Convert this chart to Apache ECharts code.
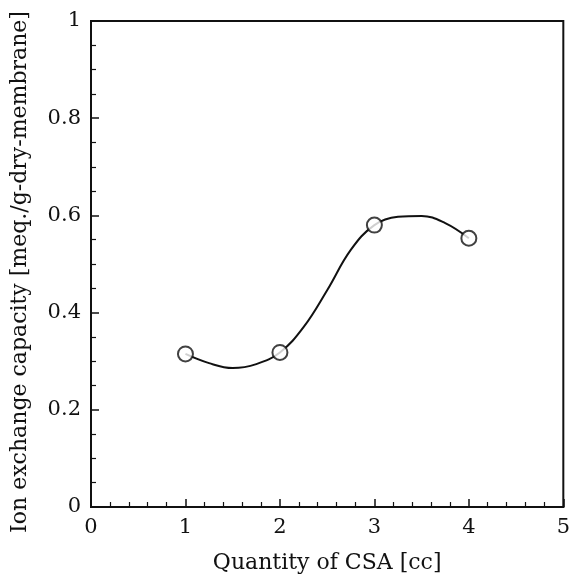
<!DOCTYPE html>
<html>
<head>
<meta charset="utf-8">
<script src="https://cdn.jsdelivr.net/npm/echarts@6/dist/echarts.min.js"></script>
<style>
  html, body { margin: 0; padding: 0; background: #fff; }
  #chart { width: 573px; height: 580px; }
</style>
</head>
<body>
<div id="chart"></div>
<script>
// measured points
const csaQty = [1, 2, 3, 4];
const ionCapacity = [0.315, 0.318, 0.58, 0.553];

// fitted curve
const curveX = [1, 1.25, 1.5, 1.75, 2, 2.25, 2.5, 2.75, 3, 3.25, 3.5, 3.75, 4];
const curveY = [0.315, 0.296, 0.286, 0.294, 0.318, 0.37, 0.446, 0.529, 0.58, 0.597, 0.599, 0.584, 0.553];

const xTicks = [0, 1, 2, 3, 4, 5];
const yTicks = [0, 0.2, 0.4, 0.6, 0.8, 1];

const font = '"DejaVu Serif", "Liberation Serif", serif';
const ink = '#111';

const chart = echarts.init(document.getElementById('chart'));

const option = {
  backgroundColor: '#fff',
  animation: false,
  grid: {
    left: 91, right: 7, top: 21, bottom: 73,
    show: true,
    borderColor: ink,
    borderWidth: 2
  },
  xAxis: {
    type: 'value',
    min: xTicks[0],
    max: xTicks[xTicks.length - 1],
    interval: 1,
    name: 'Quantity of CSA [cc]',
    nameLocation: 'middle',
    nameGap: 45,
    nameTextStyle: { fontFamily: font, fontSize: 22, color: ink },
    axisLine: { onZero: false, lineStyle: { color: ink, width: 2 } },
    axisTick: { inside: true, length: 8, lineStyle: { color: ink, width: 1.5 } },
    minorTick: { show: true, splitNumber: 5, length: 5, lineStyle: { color: ink, width: 1.2 } },
    splitLine: { show: false },
    axisLabel: { fontFamily: font, fontSize: 21, color: ink, margin: 10 }
  },
  yAxis: {
    type: 'value',
    min: yTicks[0],
    max: yTicks[yTicks.length - 1],
    interval: 0.2,
    name: 'Ion exchange capacity [meq./g-dry-membrane]',
    nameLocation: 'middle',
    nameGap: 60,
    nameRotate: 90,
    nameTextStyle: { fontFamily: font, fontSize: 22, color: ink, padding: [0, 16, 0, 0] },
    axisLine: { onZero: false, lineStyle: { color: ink, width: 2 } },
    axisTick: { inside: true, length: 8, lineStyle: { color: ink, width: 1.5 } },
    minorTick: { show: true, splitNumber: 4, length: 5, lineStyle: { color: ink, width: 1.2 } },
    splitLine: { show: false },
    axisLabel: { fontFamily: font, fontSize: 21, color: ink, margin: 10 }
  },
  series: [
    {
      name: 'fit',
      type: 'line',
      smooth: 0.4,
      symbol: 'none',
      lineStyle: { color: ink, width: 2 },
      data: curveX.map((x, i) => [x, curveY[i]]),
      z: 2
    },
    {
      name: 'measured',
      type: 'scatter',
      symbol: 'circle',
      symbolSize: 15,
      itemStyle: { color: '#fff', borderColor: ink, borderWidth: 2 },
      data: csaQty.map((x, i) => [x, ionCapacity[i]]),
      z: 3
    }
  ]
};

chart.setOption(option);
</script>
</body>
</html>
